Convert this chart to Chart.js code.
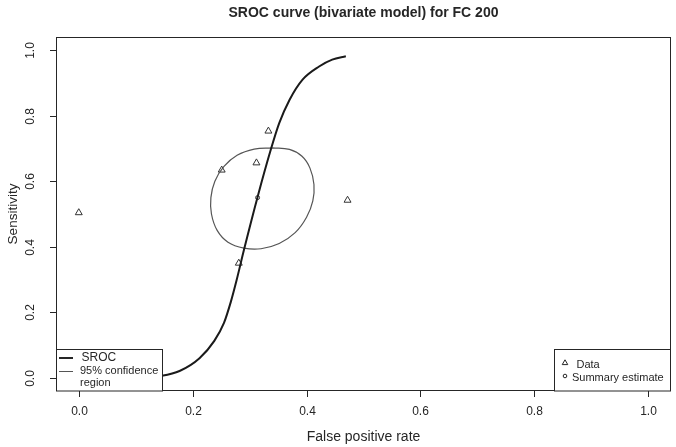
<!DOCTYPE html>
<html>
<head>
<meta charset="utf-8">
<script src="https://cdn.jsdelivr.net/npm/chart.js@4/dist/chart.umd.min.js"></script>
<style>
html,body{margin:0;padding:0;background:#fff;}
#wrap{width:676px;height:447px;position:relative;}
</style>
</head>
<body>
<div id="wrap"><canvas id="c" width="676" height="447"></canvas></div>
<script>
// ---- data ----
const titleText = "SROC curve (bivariate model) for FC 200";
const xTitle = "False positive rate";
const yTitle = "Sensitivity";
const xTicks = [0.0, 0.2, 0.4, 0.6, 0.8, 1.0];
const yTicks = [0.0, 0.2, 0.4, 0.6, 0.8, 1.0];

// study data (triangles)
const dataFpr  = [0.000, 0.251, 0.312, 0.333, 0.472, 0.281];
const dataSens = [0.504, 0.634, 0.656, 0.753, 0.542, 0.350];

// summary estimate
const summaryFpr  = [0.314];
const summarySens = [0.550];

// SROC curve
const srocFpr  = [0.120, 0.145, 0.177, 0.212, 0.238, 0.255, 0.267, 0.277, 0.290, 0.314, 0.337, 0.352, 0.370, 0.393, 0.422, 0.445, 0.469];
const srocSens = [0.002, 0.006, 0.021, 0.060, 0.113, 0.168, 0.232, 0.297, 0.390, 0.552, 0.695, 0.777, 0.848, 0.910, 0.950, 0.971, 0.981];

// 95% confidence region
const ellFpr  = [0.340, 0.370, 0.392, 0.406, 0.413, 0.411, 0.400, 0.380, 0.352, 0.320, 0.290, 0.262, 0.243, 0.233, 0.232, 0.239, 0.255, 0.278, 0.308, 0.340];
const ellSens = [0.702, 0.697, 0.676, 0.640, 0.590, 0.540, 0.490, 0.443, 0.410, 0.394, 0.396, 0.414, 0.450, 0.500, 0.550, 0.600, 0.645, 0.679, 0.698, 0.702];

const toPts = (xs, ys) => xs.map((x, i) => ({x: x, y: ys[i]}));
const FONT = "'Liberation Sans', Arial, Helvetica, sans-serif";
const INK = "#262626";

const rAxes = {
  id: 'rAxes',
  afterDatasetsDraw(chart) {
    const ctx = chart.ctx;
    const a = chart.chartArea;
    const xs = chart.scales.x, ys = chart.scales.y;
    ctx.save();
    ctx.strokeStyle = INK;
    ctx.fillStyle = INK;
    ctx.lineWidth = 1;
    // box
    ctx.strokeRect(Math.round(a.left) + 0.5, Math.round(a.top) + 0.5, Math.round(a.right - a.left) - 1, Math.round(a.bottom - a.top) - 1);
    // x ticks
    ctx.font = "12px " + FONT;
    ctx.textAlign = "center";
    ctx.textBaseline = "middle";
    xTicks.forEach(v => {
      const px = Math.round(xs.getPixelForValue(v)) + 0.5;
      ctx.beginPath(); ctx.moveTo(px, a.bottom); ctx.lineTo(px, a.bottom + 6); ctx.stroke();
      ctx.fillText(v.toFixed(1), px, 412);
    });
    // y ticks
    yTicks.forEach(v => {
      const py = Math.round(ys.getPixelForValue(v)) + 0.5;
      ctx.beginPath(); ctx.moveTo(a.left - 6, py); ctx.lineTo(a.left, py); ctx.stroke();
      ctx.save();
      ctx.translate(31, py);
      ctx.rotate(-Math.PI / 2);
      ctx.fillText(v.toFixed(1), 0, 0);
      ctx.restore();
    });
    // titles
    const cx = (a.left + a.right) / 2;
    ctx.font = "bold 14px " + FONT;
    ctx.fillText(titleText, cx, 13);
    ctx.font = "14px " + FONT;
    ctx.fillText(xTitle, cx, 437);
    ctx.save();
    ctx.translate(13, (a.top + a.bottom) / 2);
    ctx.rotate(-Math.PI / 2);
    ctx.font = "13.5px " + FONT;
    ctx.fillText(yTitle, 0, 0);
    ctx.restore();

    // left legend
    ctx.fillStyle = "#fff";
    ctx.fillRect(a.left, 349, 106, a.bottom - 349);
    ctx.strokeRect(a.left + 0.5, 349.5, 106, a.bottom - 349.5);
    ctx.fillStyle = INK;
    ctx.lineWidth = 2;
    ctx.beginPath(); ctx.moveTo(59, 358); ctx.lineTo(73, 358); ctx.stroke();
    ctx.lineWidth = 1;
    ctx.strokeStyle = "#555";
    ctx.beginPath(); ctx.moveTo(59, 371.5); ctx.lineTo(73, 371.5); ctx.stroke();
    ctx.strokeStyle = INK;
    ctx.textAlign = "left";
    ctx.font = "12px " + FONT;
    ctx.fillText("SROC", 81.5, 358);
    ctx.font = "11px " + FONT;
    ctx.fillText("95% confidence", 80, 371);
    ctx.fillText("region", 80, 383);

    // right legend
    ctx.fillStyle = "#fff";
    ctx.fillRect(554, 349, a.right - 554, a.bottom - 349);
    ctx.strokeRect(554.5, 349.5, a.right - 555, a.bottom - 349.5);
    ctx.fillStyle = INK;
    const tr = 3.2;
    ctx.beginPath();
    ctx.moveTo(565, 363 - tr);
    ctx.lineTo(565 + tr * 0.866, 363 + tr * 0.5);
    ctx.lineTo(565 - tr * 0.866, 363 + tr * 0.5);
    ctx.closePath(); ctx.stroke();
    ctx.beginPath(); ctx.arc(565, 376, 1.8, 0, Math.PI * 2); ctx.stroke();
    ctx.font = "11px " + FONT;
    ctx.fillText("Data", 576.5, 365);
    ctx.fillText("Summary estimate", 572, 378);
    ctx.restore();
  }
};

new Chart(document.getElementById('c'), {
  type: 'scatter',
  data: {
    datasets: [
      {
        label: 'SROC',
        data: toPts(srocFpr, srocSens),
        showLine: true,
        borderColor: '#1a1a1a',
        borderWidth: 2,
        pointRadius: 0,
        cubicInterpolationMode: 'monotone',
        fill: false
      },
      {
        label: '95% confidence region',
        data: toPts(ellFpr, ellSens),
        showLine: true,
        borderColor: '#555',
        borderWidth: 1.2,
        pointRadius: 0,
        tension: 0.4,
        fill: false
      },
      {
        label: 'Data',
        data: toPts(dataFpr, dataSens),
        pointStyle: 'triangle',
        pointRadius: 4,
        borderColor: '#333',
        borderWidth: 1,
        backgroundColor: 'rgba(0,0,0,0)'
      },
      {
        label: 'Summary estimate',
        data: toPts(summaryFpr, summarySens),
        pointStyle: 'circle',
        pointRadius: 2,
        borderColor: '#333',
        borderWidth: 1,
        backgroundColor: 'rgba(0,0,0,0)'
      }
    ]
  },
  options: {
    responsive: false,
    animation: false,
    devicePixelRatio: 1,
    layout: { padding: { left: 56, top: 37, right: 3, bottom: 56 } },
    plugins: { legend: { display: false }, title: { display: false }, tooltip: { enabled: false } },
    scales: {
      x: { type: 'linear', min: -0.04, max: 1.04, display: false },
      y: { type: 'linear', min: -0.04, max: 1.04, display: false }
    }
  },
  plugins: [rAxes]
});
</script>
</body>
</html>
